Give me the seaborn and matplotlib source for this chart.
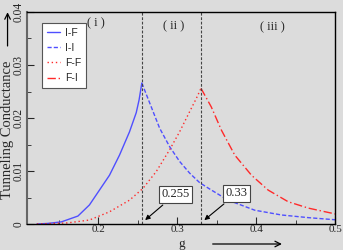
import numpy as np
import pandas as pd
import matplotlib
matplotlib.use("Agg")
import matplotlib.pyplot as plt
import seaborn as sns

# values
g_if = [0.122, 0.135, 0.153, 0.174, 0.1886, 0.2013, 0.214, 0.2267, 0.2394, 0.2479, 0.2515, 0.255]
c_if = [0.0, 0.0001, 0.0004, 0.0015, 0.0036, 0.0064, 0.0092, 0.0130, 0.0174, 0.0210, 0.0234, 0.0266]

g_ii = [0.255, 0.2648, 0.2775, 0.2902, 0.3029, 0.3156, 0.3283, 0.341, 0.3643, 0.3982, 0.4321, 0.466, 0.5]
c_ii = [0.0266, 0.0229, 0.0181, 0.0146, 0.0118, 0.0096, 0.0078, 0.0066, 0.0045, 0.0026, 0.0017, 0.0012, 0.0008]

g_ff = [0.122, 0.1605, 0.1886, 0.214, 0.2394, 0.2563, 0.2733, 0.2902, 0.3029, 0.3156, 0.3241, 0.33]
c_ff = [0.0, 0.0002, 0.00075, 0.0023, 0.0045, 0.0067, 0.0099, 0.0140, 0.0174, 0.0212, 0.0237, 0.0256]

g_fi = [0.33, 0.343, 0.3559, 0.3728, 0.394, 0.4151, 0.4405, 0.466, 0.5]
c_fi = [0.0256, 0.0221, 0.0177, 0.0130, 0.0092, 0.0064, 0.0042, 0.0030, 0.0019]

labels = ["I-F", "I-I", "F-F", "F-I"]
peaks = [0.255, 0.33]
regions = ["( i )", "( ii )", "( iii )"]
region_x = [0.197, 0.2947, 0.4207]
region_y = [0.0378, 0.0373, 0.0372]

df = pd.concat([
    pd.DataFrame({"g": g_if, "G": c_if, "curve": "I-F"}),
    pd.DataFrame({"g": g_ii, "G": c_ii, "curve": "I-I"}),
    pd.DataFrame({"g": g_ff, "G": c_ff, "curve": "F-F"}),
    pd.DataFrame({"g": g_fi, "G": c_fi, "curve": "F-I"}),
])

sns.set_style("ticks")
bg = "#dcdcdc"
plt.rcParams["font.family"] = ["Liberation Serif", "DejaVu Serif"]

fig = plt.figure(figsize=(3.43, 2.5), dpi=100, facecolor=bg)
ax = fig.add_axes([0.080, 0.104, 0.897, 0.848], facecolor=bg)

blue = "#4f4fff"
red = "#ff2a2a"
palette = {"I-F": blue, "I-I": blue, "F-F": red, "F-I": red}
styles = {"I-F": "-", "I-I": (0, (3, 1.5)), "F-F": (0, (1, 2)), "F-I": (0, (6, 2, 1, 2))}

for name in labels:
    sub = df[df["curve"] == name]
    sns.lineplot(data=sub, x="g", y="G", color=palette[name], linestyle=styles[name],
                 linewidth=1.0, ax=ax, label=name, estimator=None, sort=False)

for p in peaks:
    ax.axvline(p, color="#444444", linestyle=(0, (2.5, 1.5)), linewidth=0.8)

ax.set_xlim(0.11, 0.5)
ax.set_ylim(0, 0.04)
ax.set_xticks([0.2, 0.3, 0.4, 0.5])
ax.set_xticklabels(["0.2", "0.3", "0.4", "0.5"])
ax.set_xticks([0.15, 0.25, 0.35, 0.45], minor=True)
ax.set_yticks([0, 0.01, 0.02, 0.03, 0.04])
ax.set_yticklabels(["0", "0.01", "0.02", "0.03", "0.04"], rotation=90, va="center")
ax.set_yticks([0.005, 0.015, 0.025, 0.035], minor=True)
ax.tick_params(which="both", direction="in", labelsize=8.3, pad=2)
ax.tick_params(axis="x", which="both", pad=0.5, labelsize=8)
ax.tick_params(which="major", length=5)
ax.tick_params(which="minor", length=3)
for s in ax.spines.values():
    s.set_color("black")
    s.set_linewidth(1.0)
ax.spines["left"].set_color("#666666")
ax.spines["left"].set_linewidth(1.5)

ax.set_xlabel("")
ax.set_ylabel("")
fig.text(0.53, 0.002, "g", fontsize=9.5, ha="center", va="bottom")
fig.text(0.022, 0.48, "Tunneling Conductance", fontsize=10.5, rotation=90,
         ha="center", va="center")
fig.add_artist(matplotlib.patches.FancyArrowPatch(
    (0.022, 0.805), (0.022, 0.962), transform=fig.transFigure,
    arrowstyle="->", mutation_scale=10, color="black", lw=0.9))
fig.add_artist(matplotlib.patches.FancyArrowPatch(
    (0.612, 0.024), (0.83, 0.024), transform=fig.transFigure,
    arrowstyle="->", mutation_scale=10, color="black", lw=0.9))

for x, y, t in zip(region_x, region_y, regions):
    ax.text(x, y, t, fontsize=9, ha="center", va="center")

ax.annotate("0.255", xy=(0.2565, 0.0004), xytext=(0.2975, 0.0056),
            fontsize=9, ha="center", va="center",
            bbox=dict(boxstyle="square,pad=0.2", fc="white", ec="#444444", lw=0.8),
            arrowprops=dict(arrowstyle="-|>", color="black", lw=0.8, mutation_scale=7))
ax.annotate("0.33", xy=(0.3315, 0.0004), xytext=(0.3755, 0.0058),
            fontsize=9, ha="center", va="center",
            bbox=dict(boxstyle="square,pad=0.2", fc="white", ec="#444444", lw=0.8),
            arrowprops=dict(arrowstyle="-|>", color="black", lw=0.8, mutation_scale=7))

leg = ax.legend(loc="upper left", bbox_to_anchor=(0.047, 0.948), frameon=True,
                fancybox=False, edgecolor="#555555", facecolor="white", framealpha=1,
                prop={"family": "Liberation Sans", "size": 7.5}, handlelength=1.3,
                handletextpad=0.5, borderpad=0.45, labelspacing=0.5,
                borderaxespad=0)
leg.get_frame().set_linewidth(0.8)

fig.savefig("out.png", dpi=100, facecolor=bg)
